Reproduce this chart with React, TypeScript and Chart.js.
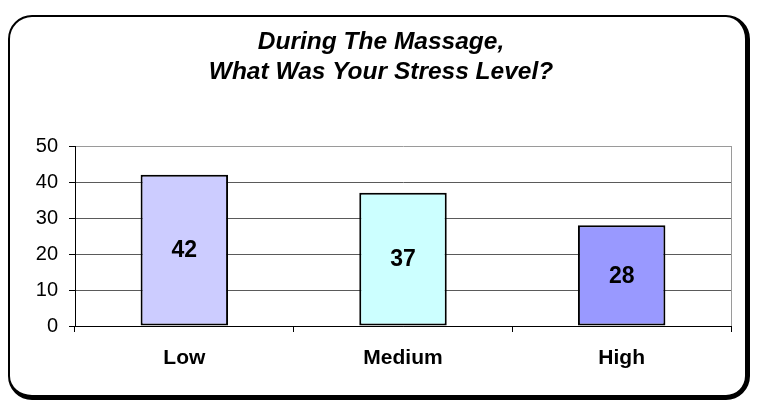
import React, { useEffect, useRef } from "react";
import { Chart, registerables } from "chart.js";

Chart.register(...registerables);

const categories = ["Low", "Medium", "High"];
const values = [42, 37, 28];
const barColors = ["#CCCCFF", "#CCFFFF", "#9999FF"];
const titleLines = ["During The Massage,", "What Was Your Stress Level?"];
const yMin = 0;
const yMax = 50;
const yStep = 10;

const FONT = "'Liberation Sans', Arial, Helvetica, sans-serif";

const valueLabels = {
  id: "valueLabels",
  afterDatasetsDraw(chart: any) {
    const ctx = chart.ctx;
    const meta = chart.getDatasetMeta(0);
    ctx.save();
    ctx.font = `bold 23px ${FONT}`;
    ctx.fillStyle = "#000";
    ctx.textAlign = "center";
    ctx.textBaseline = "middle";
    meta.data.forEach((bar: any, i: number) => {
      const { x, y, base } = bar.getProps(["x", "y", "base"], true);
      ctx.fillText(String(values[i]), x, (y + base) / 2 + 1);
    });
    ctx.restore();
  },
};

const boxTitle = {
  id: "boxTitle",
  afterDraw(chart: any) {
    const ctx = chart.ctx;
    ctx.save();
    ctx.font = `italic bold 24.5px ${FONT}`;
    ctx.fillStyle = "#000";
    ctx.textAlign = "center";
    ctx.textBaseline = "middle";
    titleLines.forEach((line, i) => {
      ctx.fillText(line, 381, 42 + i * 30);
    });
    ctx.restore();
  },
};

export default function App() {
  const ref = useRef<HTMLCanvasElement | null>(null);

  useEffect(() => {
    if (!ref.current) return;
    const chart = new Chart(ref.current, {
      type: "bar",
      data: {
        labels: categories,
        datasets: [
          {
            data: values,
            backgroundColor: barColors,
            borderColor: "#000",
            borderWidth: 2,
            borderSkipped: false,
            barPercentage: 0.4,
            categoryPercentage: 1,
          },
        ],
      },
      options: {
        responsive: false,
        animation: false,
        devicePixelRatio: 1,
        layout: { padding: { left: 0, right: 28, top: 146, bottom: 28 } },
        plugins: {
          legend: { display: false },
          tooltip: { enabled: false },
          title: { display: false },
        },
        scales: {
          x: {
            offset: true,
            grid: {
              offset: true,
              drawOnChartArea: true,
              color: (c: any) => (c.index === undefined ? "#9a9a9a" : "rgba(0,0,0,0)"),
              tickColor: "#000",
              tickLength: 6,
              lineWidth: 1,
            },
            border: { display: true, color: "#000", width: 1 },
            ticks: {
              color: "#000",
              font: { family: FONT, size: 21, weight: "bold" },
              padding: 14,
            },
            afterFit: (s: any) => {
              s.height = 60;
            },
          },
          y: {
            min: yMin,
            max: yMax,
            ticks: {
              stepSize: yStep,
              color: "#000",
              font: { family: FONT, size: 20 },
              padding: 11,
            },
            grid: {
              color: (c: any) =>
                c.tick && c.tick.value === yMax ? "#9a9a9a" : c.tick && c.tick.value === yMin ? "#000" : "#5a5a5a",
              tickColor: "#000",
              tickLength: 6,
              lineWidth: 1,
            },
            border: { display: true, color: "#000", width: 1 },
            afterFit: (s: any) => {
              s.width = 75;
            },
          },
        },
      },
      plugins: [valueLabels, boxTitle],
    });
    return () => chart.destroy();
  }, []);

  return (
    <div style={{ position: "fixed", left: 0, top: 0, width: 759, height: 414, background: "#fff" }}>
      <div
        style={{
          position: "absolute",
          left: 8,
          top: 15,
          width: 742 - 7,
          height: 385 - 7,
          borderLeft: "2px solid #000",
          borderTop: "2px solid #000",
          borderRight: "5px solid #000",
          borderBottom: "5px solid #000",
          borderRadius: 24,
        }}
      />
      <canvas
        ref={ref}
        width={759}
        height={414}
        style={{ position: "absolute", left: 0, top: 0, width: 759, height: 414 }}
      />
    </div>
  );
}
